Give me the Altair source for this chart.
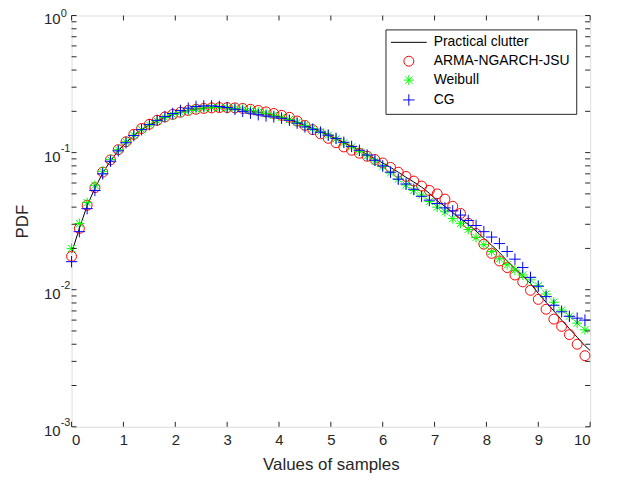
import altair as alt
import pandas as pd

# ---------------- data ----------------
x_vals = [0, 0.15, 0.3, 0.45, 0.6, 0.75, 0.9, 1.05, 1.2, 1.35,
          1.5, 1.65, 1.8, 1.95, 2.1, 2.25, 2.4, 2.55, 2.7, 2.85,
          3.0, 3.15, 3.3, 3.45, 3.6, 3.75, 3.9, 4.05, 4.2, 4.35,
          4.5, 4.65, 4.8, 4.95, 5.1, 5.25, 5.4, 5.55, 5.7, 5.85,
          6.0, 6.15, 6.3, 6.45, 6.6, 6.75, 6.9, 7.05, 7.2, 7.35,
          7.5, 7.65, 7.8, 7.95, 8.1, 8.25, 8.4, 8.55, 8.7, 8.85,
          9.0, 9.15, 9.3, 9.45, 9.6, 9.75, 9.9]

practical_x = x_vals + [10.0]
practical = [0.0185, 0.028, 0.041, 0.055, 0.071, 0.087, 0.103, 0.118, 0.133, 0.147,
             0.159, 0.170, 0.180, 0.189, 0.197, 0.203, 0.208, 0.211, 0.213, 0.213,
             0.212, 0.209, 0.205, 0.201, 0.197, 0.192, 0.187, 0.181, 0.174, 0.166,
             0.158, 0.150, 0.142, 0.134, 0.126, 0.118, 0.111, 0.104, 0.097, 0.090,
             0.084, 0.078, 0.072, 0.066, 0.061, 0.056, 0.0505, 0.0445, 0.0405, 0.0365,
             0.033, 0.030, 0.0268, 0.0237, 0.0211, 0.0187, 0.0162, 0.0143, 0.0126, 0.0111,
             0.0094, 0.0081, 0.0070, 0.0060, 0.0052, 0.0045, 0.0039,
             0.0036]

arma = [0.0175, 0.028, 0.0413, 0.0555, 0.072, 0.0885, 0.105, 0.120, 0.136, 0.150,
        0.161, 0.172, 0.182, 0.190, 0.197, 0.203, 0.207, 0.210, 0.212, 0.213,
        0.213, 0.212, 0.210, 0.207, 0.203, 0.198, 0.193, 0.187, 0.181, 0.170,
        0.158, 0.147, 0.137, 0.127, 0.118, 0.110, 0.104, 0.099, 0.094, 0.089,
        0.084, 0.078, 0.072, 0.067, 0.062, 0.057, 0.053, 0.050, 0.0458, 0.0406,
        0.036, 0.0305, 0.0257, 0.0215, 0.0184, 0.0162, 0.0145, 0.0128, 0.0114, 0.0099,
        0.0085, 0.0072, 0.0061, 0.0054, 0.0047, 0.0040, 0.0033]

weibull = [0.020, 0.0304, 0.0432, 0.0577, 0.073, 0.089, 0.105, 0.120, 0.134, 0.147,
           0.159, 0.170, 0.180, 0.189, 0.197, 0.203, 0.208, 0.211, 0.213, 0.213,
           0.212, 0.210, 0.207, 0.203, 0.198, 0.193, 0.187, 0.181, 0.174, 0.166,
           0.158, 0.150, 0.142, 0.134, 0.126, 0.118, 0.110, 0.102, 0.095, 0.087,
           0.079, 0.071, 0.064, 0.058, 0.053, 0.049, 0.044, 0.040, 0.037, 0.033,
           0.0305, 0.0275, 0.0240, 0.0213, 0.019, 0.0168, 0.0152, 0.0139, 0.0128, 0.0118,
           0.0107, 0.0093, 0.0081, 0.0071, 0.0064, 0.0057, 0.0051]

cg = [0.016, 0.0265, 0.039, 0.053, 0.070, 0.0865, 0.103, 0.118, 0.133, 0.147,
      0.160, 0.172, 0.183, 0.193, 0.203, 0.211, 0.217, 0.219, 0.219, 0.217,
      0.213, 0.207, 0.200, 0.194, 0.189, 0.185, 0.182, 0.178, 0.172, 0.164,
      0.154, 0.148, 0.141, 0.134, 0.127, 0.119, 0.111, 0.104, 0.096, 0.088,
      0.080, 0.072, 0.064, 0.059, 0.054, 0.048, 0.045, 0.0425, 0.0395, 0.0376,
      0.035, 0.032, 0.0294, 0.0265, 0.0242, 0.0217, 0.019, 0.0167, 0.0145, 0.0123,
      0.0106, 0.0089, 0.0077, 0.0069, 0.0064, 0.0062, 0.0060]

series_names = ["Practical clutter", "ARMA-NGARCH-JSU", "Weibull", "CG"]
series_colors = ["#000000", "#ff0000", "#00ff00", "#0000ff"]

x_ticks = [0, 1, 2, 3, 4, 5, 6, 7, 8, 9, 10]
y_major = [0.001, 0.01, 0.1, 1]
y_exps = ["-3", "-2", "-1", "0"]

# ---------------- tables ----------------
line_df = pd.DataFrame({"x": practical_x, "y": practical})
pts_df = pd.concat([
    pd.DataFrame({"x": x_vals, "y": arma, "series": series_names[1]}),
    pd.DataFrame({"x": x_vals, "y": weibull, "series": series_names[2]}),
    pd.DataFrame({"x": x_vals, "y": cg, "series": series_names[3]}),
], ignore_index=True)
pts_df["order"] = range(len(pts_df))

y_minor = [m * d for d in [0.001, 0.01, 0.1] for m in range(2, 10)]
xt_df = pd.DataFrame({"x": x_ticks})
yt_df = pd.DataFrame({"y": y_major + y_minor})
ylab_df = pd.DataFrame({"y": y_major, "base": ["10"] * 4, "exp": y_exps})
ylab_exp_low = ylab_df[ylab_df["y"] < 1]
ylab_exp_top = ylab_df[ylab_df["y"] >= 1]

W, H = 522, 414
AX = "#262626"
FONT = "Liberation Sans"

x_scale = alt.Scale(domain=[0, 10], nice=False, zero=False)
y_scale = alt.Scale(type="log", domain=[0.001, 1], nice=False)

x_axis = alt.Axis(values=x_ticks, ticks=False, domain=False, grid=False,
                  labelFontSize=15, labelColor=AX, labelFont=FONT,
                  labelPadding=6, title="Values of samples",
                  titleFontSize=17, titleFontWeight="normal",
                  titleColor=AX, titleFont=FONT, titlePadding=9)
y_axis = alt.Axis(labels=False, ticks=False, domain=False, grid=False,
                  title="PDF", titleFontSize=17, titleFontWeight="normal",
                  titleColor=AX, titleFont=FONT, titleX=-49, titleY=207,
                  titleBaseline="middle", titleAlign="center")

def X(field="x"):
    return alt.X(f"{field}:Q", scale=x_scale, axis=x_axis, title="Values of samples")

def Y(field="y"):
    return alt.Y(f"{field}:Q", scale=y_scale, axis=y_axis, title="PDF")

line_path = "M-3.6,0L3.6,0"
star_path = "M-1,0L1,0M0,-1L0,1M-0.72,-0.72L0.72,0.72M-0.72,0.72L0.72,-0.72"
plus_path = "M-1.15,0L1.15,0M0,-1.15L0,1.15"
shapes = [line_path, "circle", star_path, plus_path]

legend = alt.Legend(title=None, orient="none", legendX=316, legendY=14,
                    strokeColor=AX, fillColor="white", padding=6,
                    labelFontSize=14, labelFont=FONT, labelColor="#000000",
                    symbolSize=100, symbolStrokeWidth=1, rowPadding=5,
                    symbolOffset=10.5, labelOffset=18, labelLimit=300)

line = alt.Chart(line_df).mark_line(color="#000000", strokeWidth=1).encode(
    x=X(), y=Y())

points = alt.Chart(pts_df).mark_point(filled=False, strokeWidth=1, size=100, opacity=1).encode(
    x=X(), y=Y(),
    color=alt.Color("series:N", scale=alt.Scale(domain=series_names, range=series_colors), legend=legend),
    shape=alt.Shape("series:N", scale=alt.Scale(domain=series_names, range=shapes), legend=legend),
    order=alt.Order("order:Q"),
)

tick_x_bottom = alt.Chart(xt_df).mark_rule(color=AX, strokeWidth=1).encode(
    x=X(), y=alt.value(H), y2=alt.value(H - 5))
tick_x_top = alt.Chart(xt_df).mark_rule(color=AX, strokeWidth=1).encode(
    x=X(), y=alt.value(0), y2=alt.value(5))
tick_y_left = alt.Chart(yt_df).mark_rule(color=AX, strokeWidth=1).encode(
    y=Y(), x=alt.value(0), x2=alt.value(5))
tick_y_right = alt.Chart(yt_df).mark_rule(color=AX, strokeWidth=1).encode(
    y=Y(), x=alt.value(W), x2=alt.value(W - 5))

ylab_base = alt.Chart(ylab_df).mark_text(align="right", baseline="middle", fontSize=15,
                                         font=FONT, color=AX, dy=4).encode(
    y=Y(), x=alt.value(-11), text="base:N")
ylab_exp = alt.Chart(ylab_exp_low).mark_text(align="left", baseline="middle", fontSize=11,
                                             font=FONT, color=AX, dy=-4).encode(
    y=Y(), x=alt.value(-11), text="exp:N")
ylab_exp_t = alt.Chart(ylab_exp_top).mark_text(align="left", baseline="middle", fontSize=11,
                                               font=FONT, color=AX, dy=-1).encode(
    y=Y(), x=alt.value(-11), text="exp:N")

chart = alt.layer(
    line, points, tick_x_bottom, tick_x_top, tick_y_left, tick_y_right,
    ylab_base, ylab_exp, ylab_exp_t
).properties(
    width=W, height=H,
    autosize=alt.AutoSizeParams(type="none"),
    padding={"left": 64, "top": 6, "right": 20, "bottom": 50},
).configure_view(
    stroke=AX, strokeWidth=1
).configure(font=FONT, background="white")

chart.save("out.html", embed_options={"renderer": "svg", "actions": False})
